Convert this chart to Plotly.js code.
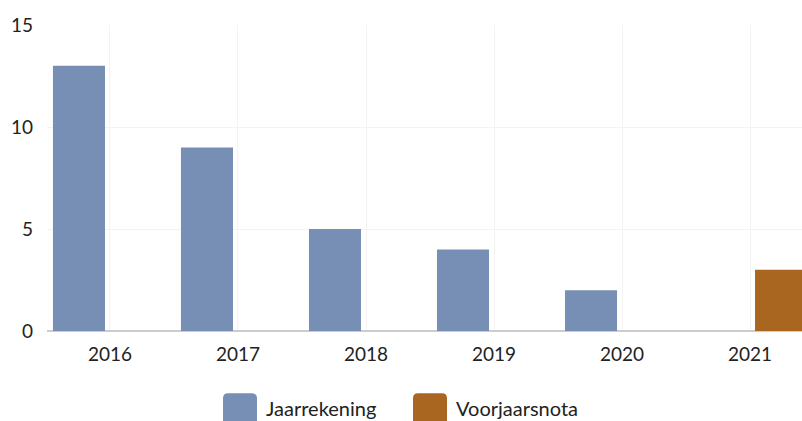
<!DOCTYPE html>
<html>
<head>
<meta charset="utf-8">
<script src="https://cdn.plot.ly/plotly-3.0.1.min.js"></script>
<style>html,body{margin:0;padding:0;background:#fff;}#chart{width:802px;height:421px;}</style>
</head>
<body>
<div id="chart"></div>
<script>
const years = ['2016', '2017', '2018', '2019', '2020', '2021'];
const jaarrekening = [13, 9, 5, 4, 2, null];
const voorjaarsnota = [null, null, null, null, null, 3];
const seriesNames = ['Jaarrekening', 'Voorjaarsnota'];
const seriesColors = ['#778fb4', '#a86620'];
const yTicks = [0, 5, 10, 15];

const W = 802, H = 421;
const M = {l: 47, r: 0, t: 25, b: 90.3};
const pw = W - M.l - M.r, ph = H - M.t - M.b;
const px = x => (x - M.l) / pw;
const py = y => (H - M.b - y) / ph;

function roundTopRect(x0, y0, x1, y1, r) {
  const X0 = px(x0), X1 = px(x1), Y0 = py(y0), Y1 = py(y1);
  const rx = r / pw, ry = r / ph;
  return `M${X0},${Y1} L${X0},${Y0 - ry} Q${X0},${Y0} ${X0 + rx},${Y0} L${X1 - rx},${Y0} Q${X1},${Y0} ${X1},${Y0 - ry} L${X1},${Y1} Z`;
}

const traces = [
  {type: 'bar', x: years, y: jaarrekening, name: seriesNames[0], marker: {color: seriesColors[0]}, hoverinfo: 'x+y+name'},
  {type: 'bar', x: years, y: voorjaarsnota, name: seriesNames[1], marker: {color: seriesColors[1]}, hoverinfo: 'x+y+name'}
];

const legendItems = [
  {sx: 223, tx: 264},
  {sx: 413, tx: 454}
];
const shapes = [], annotations = [];
legendItems.forEach((it, i) => {
  shapes.push({type: 'path', xref: 'paper', yref: 'paper', path: roundTopRect(it.sx, 393, it.sx + 34, 430, 5),
    fillcolor: seriesColors[i], line: {width: 0}});
  annotations.push({xref: 'paper', yref: 'paper', x: px(it.tx), y: py(408), xanchor: 'left', yanchor: 'middle',
    text: seriesNames[i], showarrow: false, font: {family: 'Lato, sans-serif', size: 20, color: '#222'}});
});

const layout = {
  width: W, height: H,
  margin: M,
  paper_bgcolor: '#fff', plot_bgcolor: '#fff',
  font: {family: 'Lato, sans-serif', size: 18, color: '#222'},
  barmode: 'group', bargap: 0.031, bargroupgap: 0.161,
  showlegend: false,
  xaxis: {type: 'category', range: [-0.492, 5.406], showgrid: true, gridcolor: '#f3f3f3', gridwidth: 1,
    tickfont: {size: 19, color: '#222'}, ticks: '', showline: false, zeroline: false, fixedrange: true,
    ticklabelstandoff: 10},
  yaxis: {range: [0, 15], tickvals: yTicks, ticktext: yTicks.map(String), showgrid: true, gridcolor: '#f3f3f3',
    zeroline: true, zerolinecolor: '#cccccc', zerolinewidth: 1.5, ticks: '', tickfont: {size: 19, color: '#222'},
    ticklabelstandoff: 13, fixedrange: true},
  shapes: shapes,
  annotations: annotations
};

Plotly.newPlot('chart', traces, layout, {displayModeBar: false, staticPlot: true});
</script>
</body>
</html>
